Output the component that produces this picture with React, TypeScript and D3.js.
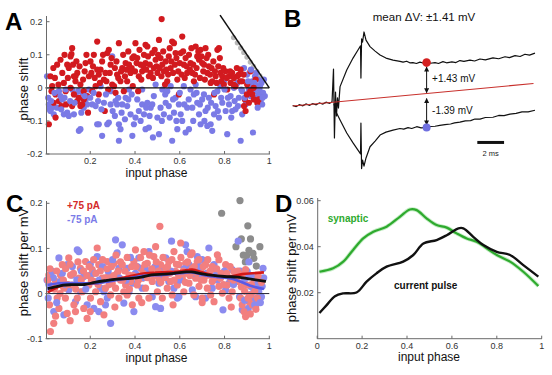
import React from 'react';
import * as d3 from 'd3';

const FONT = "'Liberation Sans', Arial, Helvetica, sans-serif";

type P = [number, number];

// ---------- Panel A: input phase vs phase shift ----------
const aPositive: P[] = [
  [0.015,-0.11],[0.022,0.035],[0.03,0.005],[0.042,0.03],[0.052,0.07],[0.045,-0.02],[0.06,-0.04],[0.045,-0.09],[0.067,0.085],[0.075,0.045],[0.082,0.015],[0.09,-0.01],[0.097,0.07],[0.072,-0.055],[0.092,-0.05],[0.037,-0.045],[0.027,-0.01],
  [0.104,0.06],[0.112,0.095],[0.116,0.102],[0.119,0.12],[0.127,0.035],[0.134,0.02],[0.142,0.045],[0.149,-0.03],[0.156,0.01],[0.164,-0.05],[0.171,-0.01],[0.179,0.075],[0.183,0.1],[0.19,-0.075],[0.194,0.035],[0.112,0.0],[0.127,-0.02],[0.142,-0.04],[0.156,-0.055],[0.171,-0.035],[0.186,-0.025],[0.119,-0.055],[0.134,0.035],
  [0.201,0.08],[0.209,-0.01],[0.224,0.005],[0.231,0.14],[0.238,0.04],[0.246,0.055],[0.253,0.08],[0.261,0.025],[0.265,-0.07],[0.268,0.045],[0.276,0.105],[0.283,0.115],[0.291,0.07],[0.298,0.01],[0.28,-0.005],[0.216,0.1],[0.238,-0.02],[0.231,0.055],
  [0.306,0.005],[0.313,-0.015],[0.32,0.04],[0.328,0.135],[0.335,0.02],[0.343,0.06],[0.35,-0.01],[0.358,0.075],[0.365,0.02],[0.373,0.07],[0.38,0.045],[0.388,0.09],[0.39,0.005],[0.395,0.095],
  [0.402,0.135],[0.41,0.09],[0.417,0.035],[0.425,0.07],[0.432,0.05],[0.44,0.1],[0.447,0.13],[0.455,0.125],[0.462,0.035],[0.47,0.045],[0.477,0.105],[0.484,0.06],[0.492,0.085],[0.5,0.045],[0.447,0.075],[0.414,-0.01],
  [0.507,0.145],[0.514,0.09],[0.519,0.208],[0.522,0.07],[0.529,0.05],[0.537,0.08],[0.544,0.02],[0.551,0.095],[0.559,0.06],[0.566,0.14],[0.574,0.135],[0.581,0.105],[0.589,0.025],[0.596,-0.02],[0.534,0.01],
  [0.604,0.105],[0.611,0.155],[0.618,0.07],[0.626,0.09],[0.633,0.045],[0.641,0.1],[0.648,0.075],[0.656,0.045],[0.663,0.02],[0.671,0.125],[0.678,0.095],[0.686,0.085],[0.693,0.115],[0.608,0.04],
  [0.7,0.075],[0.708,0.07],[0.715,0.12],[0.723,0.045],[0.73,0.065],[0.738,0.015],[0.745,0.02],[0.753,-0.02],[0.76,0.035],[0.768,0.115],[0.775,0.12],[0.782,0.045],[0.79,0.035],[0.797,0.01],
  [0.805,0.05],[0.812,-0.005],[0.82,0.035],[0.827,0.015],[0.834,0.045],[0.842,0.03],[0.849,0.005],[0.857,0.035],[0.864,0.04],[0.872,0.055],[0.879,0.02],[0.887,-0.055],[0.894,-0.07],[0.891,-0.035],
  [0.901,0.01],[0.909,-0.045],[0.916,0.05],[0.924,-0.02],[0.931,-0.035],[0.939,0.025],[0.946,-0.045],[0.953,-0.035],
  [0.035,0.06],[0.058,0.01],[0.085,0.1],[0.1,0.03],[0.123,0.07],[0.138,0.08],[0.152,0.065],[0.168,0.025],[0.175,0.05],[0.205,0.045],[0.212,0.065],[0.22,0.03],[0.243,0.015],[0.257,0.1],[0.272,0.02],[0.287,0.045],[0.295,0.09],[0.31,0.06],[0.317,0.08],[0.325,0.03],[0.338,0.05],[0.347,0.1],[0.355,0.035],[0.362,0.055],[0.37,0.11],[0.385,0.06],[0.4,0.05],[0.407,0.075],[0.42,0.115],[0.428,0.025],[0.437,0.065],[0.45,0.055],[0.458,0.095],[0.466,0.07],[0.48,0.03],[0.488,0.115],[0.496,0.065],[0.503,0.1],[0.51,0.06],[0.518,0.035],[0.526,0.11],[0.54,0.055],[0.548,0.04],[0.555,0.12],[0.562,0.08],[0.57,0.045],[0.578,0.07],[0.585,0.09],[0.593,0.05],[0.6,0.075],[0.615,0.11],[0.622,0.03],[0.63,0.065],[0.645,0.055],[0.652,0.12],[0.66,0.07],[0.668,0.04],[0.675,0.06],[0.683,0.11],[0.69,0.03],[0.697,0.095],[0.705,0.05],[0.712,0.025],[0.72,0.09],[0.727,0.1],[0.735,0.04],[0.742,0.06],[0.75,0.08],[0.757,0.05],[0.765,0.015],[0.772,0.065],[0.779,0.09],[0.786,0.02],[0.794,0.06],[0.81,0.03],[0.825,0.05],[0.84,0.01],[0.855,0.06],[0.87,0.02],[0.885,0.04],[0.9,-0.02],[0.915,-0.01],[0.93,0.0],
];
const aNegative: P[] = [
  [0.007,0.035],[0.015,-0.05],[0.018,-0.065],[0.022,-0.07],[0.03,-0.06],[0.012,-0.03],[0.037,-0.08],[0.052,-0.06],[0.067,-0.025],[0.075,-0.035],[0.082,-0.08],[0.097,-0.075],[0.09,-0.005],[0.06,-0.01],
  [0.104,-0.085],[0.119,-0.005],[0.134,-0.02],[0.149,-0.13],[0.156,-0.125],[0.164,-0.015],[0.171,-0.06],[0.179,-0.035],[0.194,-0.005],[0.186,-0.05],[0.127,-0.08],[0.146,-0.01],
  [0.209,-0.05],[0.224,-0.055],[0.231,-0.11],[0.238,-0.11],[0.253,-0.145],[0.261,-0.045],[0.276,-0.11],[0.283,-0.105],[0.291,-0.05],[0.298,0.095],[0.246,0.005],[0.291,-0.01],
  [0.313,-0.04],[0.32,-0.05],[0.328,-0.11],[0.335,-0.125],[0.343,-0.05],[0.358,-0.03],[0.365,-0.055],[0.373,-0.005],[0.38,-0.08],[0.388,-0.145],[0.395,-0.11],[0.328,-0.16],
  [0.402,-0.09],[0.417,-0.07],[0.432,-0.05],[0.44,-0.08],[0.447,-0.125],[0.455,-0.045],[0.462,-0.12],[0.47,-0.06],[0.477,-0.05],[0.484,-0.025],[0.492,0.01],[0.432,-0.005],
  [0.507,-0.14],[0.514,-0.06],[0.522,-0.005],[0.529,-0.08],[0.537,-0.045],[0.544,-0.01],[0.551,-0.055],[0.559,0.005],[0.566,-0.16],[0.574,-0.075],[0.581,-0.03],[0.589,-0.125],[0.596,-0.05],
  [0.604,-0.08],[0.611,-0.1],[0.618,0.005],[0.626,-0.135],[0.633,-0.06],[0.641,-0.125],[0.648,-0.005],[0.656,-0.06],[0.663,-0.02],[0.678,-0.045],[0.686,-0.08],[0.693,-0.11],[0.671,0.01],
  [0.7,-0.035],[0.708,-0.02],[0.715,-0.07],[0.723,-0.115],[0.73,-0.03],[0.738,-0.11],[0.745,-0.13],[0.753,-0.08],[0.76,-0.055],[0.768,-0.01],[0.775,-0.09],[0.782,0.005],[0.79,-0.045],[0.797,0.02],
  [0.805,-0.07],[0.812,-0.14],[0.82,-0.05],[0.827,-0.025],[0.834,-0.07],[0.842,0.0],[0.849,-0.065],[0.857,0.015],[0.864,-0.03],[0.872,-0.16],[0.879,-0.08],[0.887,0.06],[0.894,-0.05],[0.879,-0.01],
  [0.901,0.04],[0.909,-0.005],[0.916,-0.025],[0.921,0.01],[0.924,0.02],[0.927,-0.135],[0.931,-0.01],[0.936,0.035],[0.939,-0.03],[0.942,0.045],[0.946,0.005],[0.95,0.025],[0.953,-0.02],[0.956,-0.005],[0.961,-0.04],[0.965,0.015],[0.968,-0.05],[0.972,-0.015],[0.976,0.025],[0.98,-0.025],
  [0.025,-0.04],[0.04,-0.015],[0.07,-0.065],[0.085,-0.03],[0.11,-0.04],[0.13,-0.045],[0.16,-0.075],[0.175,-0.025],[0.2,-0.03],[0.215,-0.015],[0.235,-0.04],[0.25,-0.065],[0.27,-0.02],[0.3,-0.07],[0.31,-0.085],[0.325,-0.03],[0.34,-0.075],[0.355,-0.095],[0.37,-0.035],[0.385,-0.02],[0.41,-0.035],[0.425,-0.1],[0.45,-0.06],[0.465,-0.085],[0.48,-0.15],[0.5,-0.09],[0.52,-0.1],[0.535,-0.02],[0.555,-0.09],[0.57,-0.035],[0.585,-0.1],[0.6,-0.015],[0.62,-0.05],[0.64,-0.035],[0.66,-0.1],[0.675,-0.015],[0.69,-0.05],[0.71,-0.1],[0.725,-0.06],[0.74,-0.045],[0.755,-0.015],[0.77,-0.07],[0.785,-0.03],[0.8,-0.005],[0.815,-0.03],[0.83,-0.09],[0.845,-0.04],[0.86,-0.055],[0.875,-0.005],[0.89,-0.03],[0.905,0.02],[0.918,0.055],[0.933,0.015],[0.948,-0.06],[0.958,0.005],[0.97,-0.03],
];
const aSaturated: P[] = [
  [0.84,0.152],[0.857,0.136],[0.872,0.121],[0.886,0.107],[0.9,0.093],[0.915,0.078],[0.93,0.064],[0.944,0.05],[0.958,0.036],[0.97,0.024],
];
const aLimitLine: P[] = [[0.78, 0.22], [1, 0]];

// ---------- Panel B: voltage traces (time ms, mV) ----------
const bBaseline: P[] = [
  [0,0.02],[0.25,-0.03],[0.5,0.06],[0.75,0.01],[1.0,0.09],[1.25,0.03],[1.5,0.1],[1.75,0.05],[2.0,0.14],[2.25,0.09],[2.5,0.17],[2.75,0.12],[2.94,0.18],
];
const bControl: P[] = [[0, 0], [18, 1.0]];
const bDepolarized: P[] = [
  [2.94,0.18],[3.05,1.64],[3.12,-1.42],[3.2,0.62],[3.27,-0.44],[3.35,0.36],[3.42,-0.09],[3.54,0.86],[4.04,1.6],[4.51,2.13],[4.88,2.49],[5.07,2.67],[5.1,1.24],[5.15,2.98],[5.22,2.84],[5.33,3.29],[5.48,2.93],[5.78,2.64],[6.16,2.44],[6.53,2.27],[6.97,2.13],[7.5,2.04],
  [8.02,1.98],[8.25,1.95],[8.52,1.99],[8.75,1.92],[8.99,1.93],[9.25,1.89],[9.51,1.95],[9.75,1.91],[10.01,1.93],[10.3,1.9],[10.64,1.93],[10.9,1.89],[11.23,1.97],[11.5,1.92],[11.9,1.96],[12.2,1.93],[12.5,2.02],[12.8,1.98],[13.25,2.04],[13.6,2.0],[14.0,2.09],[14.4,2.05],[14.97,2.14],[15.4,2.1],[15.87,2.19],[16.2,2.15],[16.62,2.24],[17.0,2.2],[17.36,2.3],[17.7,2.26],[18.11,2.35],
];
const bHyperpolarized: P[] = [
  [3.09,0.09],[3.24,-0.27],[3.54,-0.62],[4.04,-1.2],[4.51,-1.64],[4.88,-1.96],[5.07,-2.13],[5.1,-0.76],[5.15,-2.78],[5.22,-2.4],[5.33,-2.67],[5.48,-2.31],[5.78,-1.81],[6.16,-1.56],[6.53,-1.29],[6.97,-1.16],[7.5,-1.07],
  [8.02,-1.0],[8.3,-1.03],[8.62,-0.96],[8.9,-1.0],[9.27,-0.92],[9.6,-0.97],[10.01,-0.95],[10.3,-0.91],[10.64,-0.9],[11.0,-0.86],[11.38,-0.83],[11.8,-0.8],[12.1,-0.75],[12.5,-0.72],[12.9,-0.66],[13.3,-0.65],[13.62,-0.58],[14.0,-0.58],[14.4,-0.51],[14.97,-0.5],[15.4,-0.42],[15.8,-0.43],[16.24,-0.36],[16.7,-0.33],[17.14,-0.26],[17.6,-0.26],[18.11,-0.19],
];
const bMeasureT = 10.01;
const bUpperV = 1.93;
const bLowerV = -0.95;
const bTitle = 'mean ΔV: ±1.41 mV';
const bUpperLabel = '+1.43 mV';
const bLowerLabel = '-1.39 mV';
const bScaleBar = { t0: 13.8, len: 2, v: -1.62, label: '2 ms' };

// ---------- Panel C: phase shift per mV ----------
const cPositive: P[] = [
  [0.015,0.041],[0.018,-0.025],[0.022,-0.084],[0.037,-0.066],[0.03,0.012],[0.045,0.027],[0.052,-0.01],[0.06,-0.033],[0.067,0.041],[0.075,0.064],[0.082,0.012],[0.089,-0.01],[0.097,-0.044],[0.104,0.079],[0.112,0.041],[0.119,0.019],[0.127,-0.025],[0.134,-0.04],[0.142,-0.01],[0.149,0.034],[0.156,0.056],[0.164,0.004],[0.171,-0.033],[0.179,0.071],[0.186,-0.055],[0.194,0.019],
  [0.201,-0.01],[0.209,0.053],[0.216,0.027],[0.224,0.004],[0.231,0.101],[0.238,0.064],[0.246,-0.018],[0.253,0.034],[0.261,-0.047],[0.268,0.012],[0.276,0.071],[0.283,0.041],[0.291,-0.003],[0.298,0.023],[0.306,0.067],[0.313,0.012],[0.32,0.045],[0.328,-0.01],[0.335,0.03],[0.343,0.064],[0.35,0.004],[0.358,0.019],[0.365,-0.003],[0.373,0.041],[0.38,0.027],[0.388,-0.025],[0.395,0.071],
  [0.402,0.097],[0.41,0.019],[0.417,-0.01],[0.425,0.056],[0.432,0.034],[0.44,0.093],[0.447,0.012],[0.455,0.067],[0.462,-0.01],[0.47,0.045],[0.477,0.027],[0.484,0.082],[0.492,0.104],[0.5,0.004],[0.507,0.034],[0.511,0.149],[0.514,0.064],[0.522,-0.01],[0.529,0.041],[0.537,0.056],[0.544,0.012],[0.551,0.071],[0.559,0.027],[0.566,-0.003],[0.574,0.093],[0.581,0.049],[0.589,0.019],[0.596,0.064],
  [0.604,0.112],[0.611,0.034],[0.618,0.004],[0.626,0.067],[0.633,0.045],[0.641,0.023],[0.648,0.086],[0.656,0.056],[0.663,-0.003],[0.671,0.034],[0.678,0.071],[0.686,0.016],[0.693,0.053],[0.7,-0.01],[0.708,0.03],[0.715,0.064],[0.723,0.012],[0.73,0.041],[0.738,-0.003],[0.745,0.027],[0.753,-0.018],[0.76,0.053],[0.768,0.086],[0.775,0.016],[0.782,0.034],[0.79,0.001],[0.797,0.045],
  [0.805,0.064],[0.812,0.019],[0.82,-0.01],[0.827,0.034],[0.834,0.004],[0.842,0.049],[0.857,0.027],[0.872,-0.01],[0.879,-0.025],[0.887,-0.04],[0.894,-0.051],[0.901,0.019],[0.909,-0.018],[0.916,-0.003],[0.924,-0.025],[0.931,0.034],[0.939,-0.029],[0.946,-0.01],[0.953,-0.018],[0.894,0.053],[0.879,0.042],
  [0.01,0.03],[0.02,0.055],[0.04,0.01],[0.05,0.05],[0.065,0.0],[0.08,0.03],[0.09,0.055],[0.1,0.02],[0.11,0.065],[0.125,0.045],[0.135,0.01],[0.145,0.07],[0.16,0.03],[0.17,0.05],[0.185,0.04],[0.195,0.06],[0.205,0.03],[0.215,0.075],[0.225,0.045],[0.235,0.02],[0.245,0.05],[0.255,0.075],[0.265,0.035],[0.275,0.055],[0.285,0.02],[0.295,0.06],[0.305,0.04],[0.315,0.085],[0.325,0.05],[0.335,0.07],[0.345,0.03],[0.355,0.05],[0.365,0.08],[0.375,0.01],[0.385,0.06],[0.39,0.04],[0.405,0.06],[0.415,0.03],[0.425,0.08],[0.435,0.045],[0.445,0.065],[0.455,0.035],[0.465,0.085],[0.475,0.055],[0.485,0.04],[0.495,0.07],[0.505,0.05],[0.515,0.025],[0.525,0.08],[0.535,0.035],[0.545,0.06],[0.555,0.045],[0.565,0.075],[0.575,0.03],[0.585,0.065],[0.595,0.04],[0.605,0.08],[0.615,0.05],[0.625,0.025],[0.635,0.07],[0.645,0.04],[0.655,0.09],[0.665,0.06],[0.675,0.045],[0.685,0.075],[0.695,0.03],[0.705,0.06],[0.715,0.04],[0.725,0.075],[0.735,0.05],[0.745,0.06],[0.755,0.035],[0.765,0.055],[0.775,0.075],[0.785,0.045],[0.795,0.02],[0.81,0.045],[0.825,0.06],[0.84,0.03],[0.86,0.05],[0.875,0.015],[0.89,0.005],[0.905,-0.01],[0.92,0.02],[0.935,0.005],[0.95,0.04],[0.965,0.025],[0.045,-0.05],[0.11,-0.06],[0.2,-0.04],[0.31,-0.03],[0.43,-0.02],[0.57,-0.025],[0.7,-0.02],[0.83,-0.03],[0.915,-0.045],[0.94,-0.035],
];
const cNegative: P[] = [
  [0.007,0.03],[0.012,-0.01],[0.022,0.012],[0.03,0.049],[0.037,-0.04],[0.06,0.079],[0.067,0.027],[0.082,-0.047],[0.097,0.064],[0.104,0.008],[0.119,0.041],[0.134,-0.018],[0.142,0.097],[0.149,0.093],[0.156,0.004],[0.171,0.038],[0.186,-0.025],
  [0.201,0.041],[0.216,-0.033],[0.231,0.082],[0.238,-0.04],[0.246,0.012],[0.261,0.004],[0.268,-0.025],[0.276,-0.01],[0.291,-0.066],[0.298,0.034],[0.313,0.119],[0.32,0.09],[0.328,0.056],[0.343,0.108],[0.35,-0.021],[0.365,0.056],[0.373,0.004],[0.388,0.023],[0.395,-0.04],
  [0.402,0.045],[0.417,0.079],[0.432,0.012],[0.447,0.053],[0.462,0.093],[0.477,-0.007],[0.492,-0.029],[0.507,0.023],[0.514,-0.033],[0.522,0.053],[0.537,0.079],[0.551,0.027],[0.563,0.116],[0.574,0.012],[0.589,-0.01],[0.596,-0.007],
  [0.611,0.041],[0.626,0.108],[0.633,0.093],[0.641,0.064],[0.656,0.008],[0.671,-0.007],[0.678,0.082],[0.693,0.034],[0.7,0.075],[0.715,-0.01],[0.73,0.101],[0.745,0.012],[0.753,0.064],[0.768,0.03],[0.782,0.041],[0.793,-0.036],
  [0.805,0.008],[0.82,0.023],[0.834,0.053],[0.849,0.034],[0.861,0.116],[0.867,-0.007],[0.879,-0.036],[0.887,0.027],[0.901,0.049],[0.906,-0.033],[0.912,-0.003],[0.916,0.016],[0.924,-0.01],[0.931,0.008],[0.939,0.023],[0.942,-0.014],[0.953,0.004],[0.961,0.03],[0.965,-0.007],[0.968,0.016],[0.972,0.056],[0.909,0.07],
  [0.015,0.02],[0.035,0.035],[0.05,-0.02],[0.075,0.045],[0.09,0.02],[0.12,0.06],[0.14,0.03],[0.16,0.05],[0.18,0.01],[0.2,0.065],[0.22,0.045],[0.24,0.03],[0.255,0.06],[0.28,0.05],[0.3,0.075],[0.33,0.035],[0.36,0.03],[0.38,0.08],[0.41,0.06],[0.44,0.035],[0.46,0.05],[0.49,0.06],[0.53,0.04],[0.56,0.05],[0.6,0.03],[0.62,0.055],[0.66,0.045],[0.69,0.06],[0.72,0.045],[0.76,0.04],[0.8,0.05],[0.84,0.02],[0.87,0.05],[0.895,0.035],[0.92,0.04],[0.95,0.02],[0.975,0.035],[0.96,-0.02],[0.935,-0.025],[0.89,-0.015],
];
const cExcluded: P[] = [
  [0.787,0.178],[0.869,0.206],[0.904,0.15],[0.851,0.104],[0.875,0.121],[0.916,0.121],[0.958,0.104],[0.884,0.085],[0.899,0.084],[0.927,0.089],[0.931,0.078],[0.942,0.061],[0.893,0.07],[0.909,0.096],
];
const cPositiveFit: P[] = [
  [0.01,0.002],[0.03,0.008],[0.075,0.018],[0.149,0.021],[0.224,0.023],[0.298,0.03],[0.373,0.038],[0.447,0.045],[0.522,0.047],[0.596,0.049],[0.656,0.053],[0.7,0.047],[0.76,0.039],[0.82,0.037],[0.879,0.043],[0.924,0.045],[0.976,0.047],
];
const cNegativeFit: P[] = [
  [0.01,0.019],[0.06,0.023],[0.149,0.023],[0.224,0.023],[0.298,0.028],[0.373,0.034],[0.447,0.04],[0.522,0.041],[0.596,0.045],[0.656,0.047],[0.715,0.04],[0.775,0.036],[0.834,0.033],[0.879,0.025],[0.924,0.016],[0.976,0.01],
];
const cLegend = ['+75 pA', '-75 pA'];

// ---------- Panel D: averaged curves ----------
const currentPulseFit: P[] = [
  [0.01,0.0112],[0.042,0.0146],[0.079,0.0185],[0.116,0.0197],[0.175,0.0201],[0.22,0.0248],[0.264,0.0284],[0.309,0.0313],[0.383,0.0335],[0.428,0.0364],[0.473,0.0414],[0.532,0.0429],[0.577,0.045],[0.629,0.048],[0.651,0.048],[0.695,0.0443],[0.74,0.0407],[0.8,0.0378],[0.859,0.0364],[0.918,0.032],[0.985,0.027],
];
const synapticFit: P[] = [
  [0.01,0.0291],[0.071,0.0306],[0.116,0.0335],[0.16,0.0386],[0.205,0.0436],[0.25,0.0465],[0.309,0.0487],[0.368,0.053],[0.413,0.0562],[0.443,0.0559],[0.487,0.0523],[0.532,0.0494],[0.577,0.0483],[0.621,0.0458],[0.666,0.0436],[0.71,0.0422],[0.755,0.0393],[0.8,0.0364],[0.859,0.0335],[0.918,0.0291],[0.985,0.0229],
];

const phaseTicks = [0.2, 0.4, 0.6, 0.8, 1];
const dPhaseTicks = [0, 0.2, 0.4, 0.6, 0.8, 1];
const aShiftTicks = [-0.2, -0.1, 0, 0.1, 0.2];
const cShiftTicks = [-0.1, 0, 0.1, 0.2];
const dShiftTicks = [0.02, 0.04, 0.06];

// ---------- colours ----------
const RED_A = '#d21a1f';
const BLUE_A = '#7a7ae6';
const SALMON = '#f27f7f';
const BLUE_C = '#8b8bef';
const GREEN = '#2eaa2e';
const AXIS = '#6a6a6a';
const TICKTXT = '#333';

type Scale = d3.ScaleLinear<number, number>;

// interleave two series so neither is systematically on top
function interleave(a: P[], b: P[]): { d: P; s: 0 | 1 }[] {
  const out: { d: P; s: 0 | 1 }[] = [];
  const n = Math.max(a.length, b.length);
  for (let i = 0; i < n; i++) {
    if (i < b.length) out.push({ d: b[i], s: 1 });
    if (i < a.length) out.push({ d: a[i], s: 0 });
  }
  return out;
}

function AxisLeft({ y, x, top, ticks }: { y: Scale; x: number; top: number; ticks: number[] }) {
  const bottom = y.range()[0];
  return (
    <g>
      <line x1={x} x2={x} y1={top} y2={bottom} stroke={AXIS} strokeWidth={1} />
      {ticks.map((t) => (
        <g key={t}>
          <line x1={x} x2={x + 3} y1={y(t)} y2={y(t)} stroke={AXIS} />
          <text x={x - 4} y={y(t)} dy="0.35em" textAnchor="end" fontSize={9} fill={TICKTXT} fontFamily={FONT}>
            {String(t)}
          </text>
        </g>
      ))}
    </g>
  );
}

function AxisBottom({ x, y, ticks, right }: { x: Scale; y: number; ticks: number[]; right: number }) {
  const left = x.range()[0];
  return (
    <g>
      <line x1={left} x2={right} y1={y} y2={y} stroke={AXIS} strokeWidth={1} />
      {ticks.map((t) => (
        <g key={t}>
          <line x1={x(t)} x2={x(t)} y1={y} y2={y - 3} stroke={AXIS} />
          <text x={x(t)} y={y + 10} textAnchor="middle" fontSize={9} fill={TICKTXT} fontFamily={FONT}>
            {String(t)}
          </text>
        </g>
      ))}
    </g>
  );
}

function YLabel({ x, y, text, size = 13 }: { x: number; y: number; text: string; size?: number }) {
  return (
    <text transform={`translate(${x},${y}) rotate(-90)`} textAnchor="middle" dy="0.35em" fontSize={size} fontFamily={FONT} fill="#111">
      {text}
    </text>
  );
}

function PanelLetter({ x, y, t }: { x: number; y: number; t: string }) {
  return (
    <text x={x} y={y} fontSize={24} fontWeight="bold" fontFamily={FONT} fill="#000">
      {t}
    </text>
  );
}

export default function App() {
  const xA = d3.scaleLinear().domain([0, 1]).range([45.5, 269.3]);
  const yA = d3.scaleLinear().domain([-0.2, 0.2]).range([154, 21.7]);
  const xC = d3.scaleLinear().domain([0, 1]).range([45.5, 269.3]);
  const yC = d3.scaleLinear().domain([-0.1, 0.2]).range([338.7, 203.3]);
  const xD = d3.scaleLinear().domain([0, 1]).range([317.2, 541.7]);
  const yD = d3.scaleLinear().domain([0, 0.06]).range([338.7, 200.7]);
  const xB = d3.scaleLinear().domain([0, 18]).range([292.7, 533.5]);
  const yB = d3.scaleLinear().domain([0, 1]).range([106, 83.5]);

  const lineA = d3.line<P>().x((d) => xA(d[0])).y((d) => yA(d[1]));
  const smoothC = d3.line<P>().x((d) => xC(d[0])).y((d) => yC(d[1])).curve(d3.curveCatmullRom.alpha(0.5));
  const smoothD = d3.line<P>().x((d) => xD(d[0])).y((d) => yD(d[1])).curve(d3.curveCatmullRom.alpha(0.5));
  const lineB = d3.line<P>().x((d) => xB(d[0])).y((d) => yB(d[1]));

  const controlAt = (t: number) => {
    const [a, b] = bControl;
    return a[1] + ((b[1] - a[1]) * (t - a[0])) / (b[0] - a[0]);
  };
  const mx = xB(bMeasureT);
  const yUp = yB(bUpperV);
  const yMid = yB(controlAt(bMeasureT));
  const yLow = yB(bLowerV);

  const aDots = interleave(aPositive, aNegative);
  const cDots = interleave(cPositive, cNegative);

  return (
    <svg width={552} height={375} viewBox="0 0 552 375" style={{ position: 'absolute', left: 0, top: 0, background: '#fff' }}>
      <defs>
        <marker id="ah" viewBox="0 0 10 10" refX="9" refY="5" markerWidth="5" markerHeight="5" orient="auto-start-reverse" markerUnits="userSpaceOnUse">
          <path d="M0,0 L10,5 L0,10 z" fill="#111" />
        </marker>
      </defs>
      <rect x={0} y={0} width={552} height={375} fill="#fff" />

      {/* ---------------- Panel A ---------------- */}
      <PanelLetter x={5} y={30} t="A" />
      <g>
        {aSaturated.map((d, i) => (
          <circle key={'as' + i} cx={xA(d[0])} cy={yA(d[1])} r={2.6} fill="#b8b8b8" />
        ))}
        {aDots.map((p, i) => (
          <circle key={'a' + i} cx={xA(p.d[0])} cy={yA(p.d[1])} r={3.1} fill={p.s === 0 ? RED_A : BLUE_A} />
        ))}
        <line x1={xA(0)} x2={xA(1)} y1={yA(0)} y2={yA(0)} stroke="#111" strokeWidth={1.3} />
        <path d={lineA(aLimitLine) || ''} stroke="#111" strokeWidth={1.5} fill="none" />
        <AxisLeft y={yA} x={46.5} top={16} ticks={aShiftTicks} />
        <AxisBottom x={xA} y={154} ticks={phaseTicks} right={270} />
        <YLabel x={23} y={89} text="phase shift" />
        <text x={156.5} y={177} textAnchor="middle" fontSize={12} fontFamily={FONT} fill="#111">input phase</text>
      </g>

      {/* ---------------- Panel B ---------------- */}
      <PanelLetter x={284} y={27} t="B" />
      <text x={424} y={21} textAnchor="middle" fontSize={11.5} fontFamily={FONT} fill="#111">{bTitle}</text>
      <path d={lineB(bBaseline) || ''} stroke="#111" strokeWidth={1.2} fill="none" />
      <path d={lineB(bDepolarized) || ''} stroke="#111" strokeWidth={1.2} fill="none" strokeLinejoin="round" />
      <path d={lineB(bHyperpolarized) || ''} stroke="#111" strokeWidth={1.2} fill="none" strokeLinejoin="round" />
      <path d={lineB(bControl) || ''} stroke="#c8302c" strokeWidth={1.1} fill="none" />
      <line x1={mx} x2={mx} y1={yUp + 4.5} y2={yMid - 0.8} stroke="#111" strokeWidth={1} markerStart="url(#ah)" markerEnd="url(#ah)" />
      <line x1={mx} x2={mx} y1={yMid + 5} y2={yLow - 2.5} stroke="#111" strokeWidth={1} markerStart="url(#ah)" markerEnd="url(#ah)" />
      <circle cx={mx} cy={yUp} r={4.3} fill="#d42020" />
      <circle cx={mx} cy={yLow} r={4} fill="#7070e0" />
      <text x={mx + 5.5} y={yB((bUpperV + controlAt(bMeasureT)) / 2) + 3.5} fontSize={10} fontFamily={FONT} fill="#111">{bUpperLabel}</text>
      <text x={mx + 5.5} y={yB((bLowerV + controlAt(bMeasureT)) / 2) + 3.5} fontSize={10} fontFamily={FONT} fill="#111">{bLowerLabel}</text>
      <line x1={xB(bScaleBar.t0)} x2={xB(bScaleBar.t0 + bScaleBar.len)} y1={yB(bScaleBar.v)} y2={yB(bScaleBar.v)} stroke="#111" strokeWidth={3} />
      <text x={xB(bScaleBar.t0 + bScaleBar.len / 2)} y={yB(bScaleBar.v) + 14} textAnchor="middle" fontSize={7.5} fontFamily={FONT} fill="#222">{bScaleBar.label}</text>

      {/* ---------------- Panel C ---------------- */}
      <PanelLetter x={6} y={212} t="C" />
      <g>
        {cExcluded.map((d, i) => (
          <circle key={'cx' + i} cx={xC(d[0])} cy={yC(d[1])} r={3.6} fill="#8c8c8c" />
        ))}
        {cDots.map((p, i) => (
          <circle key={'c' + i} cx={xC(p.d[0])} cy={yC(p.d[1])} r={3.6} fill={p.s === 0 ? SALMON : BLUE_C} />
        ))}
        <line x1={xC(0)} x2={xC(1)} y1={yC(0)} y2={yC(0)} stroke="#223" strokeWidth={1} />
        <path d={smoothC(cPositiveFit) || ''} stroke="#d41818" strokeWidth={2.6} fill="none" />
        <path d={smoothC(cNegativeFit) || ''} stroke="#5a5ae6" strokeWidth={2.6} fill="none" />
        <path d={smoothC(currentPulseFit) || ''} stroke="#111" strokeWidth={2.8} fill="none" />
        <AxisLeft y={yC} x={46.5} top={201} ticks={cShiftTicks} />
        <AxisBottom x={xC} y={338.7} ticks={phaseTicks} right={270} />
        <YLabel x={23} y={262} text="phase shift per mV" />
        <text x={156.5} y={362} textAnchor="middle" fontSize={12} fontFamily={FONT} fill="#111">input phase</text>
        <text x={67} y={209} fontSize={10} fontWeight="bold" fontFamily={FONT} fill="#d42a2a">{cLegend[0]}</text>
        <text x={67} y={223} fontSize={10} fontWeight="bold" fontFamily={FONT} fill="#7b7be8">{cLegend[1]}</text>
      </g>

      {/* ---------------- Panel D ---------------- */}
      <PanelLetter x={275} y={212} t="D" />
      <g>
        <path d={smoothD(synapticFit) || ''} stroke="#9be09b" strokeWidth={4} fill="none" opacity={0.6} />
        <path d={smoothD(synapticFit) || ''} stroke={GREEN} strokeWidth={2.2} fill="none" />
        <path d={smoothD(currentPulseFit) || ''} stroke="#111" strokeWidth={2.4} fill="none" />
        <AxisLeft y={yD} x={317.7} top={198} ticks={dShiftTicks} />
        <AxisBottom x={xD} y={338.7} ticks={dPhaseTicks} right={542} />
        <YLabel x={291} y={268} text="phase shift per mV" />
        <text x={429} y={361} textAnchor="middle" fontSize={12} fontFamily={FONT} fill="#111">input phase</text>
        <text x={327.7} y={222} fontSize={10} fontWeight="bold" fontFamily={FONT} fill={GREEN}>synaptic</text>
        <text x={394} y={289} fontSize={10} fontWeight="bold" fontFamily={FONT} fill="#111">current pulse</text>
      </g>
    </svg>
  );
}
